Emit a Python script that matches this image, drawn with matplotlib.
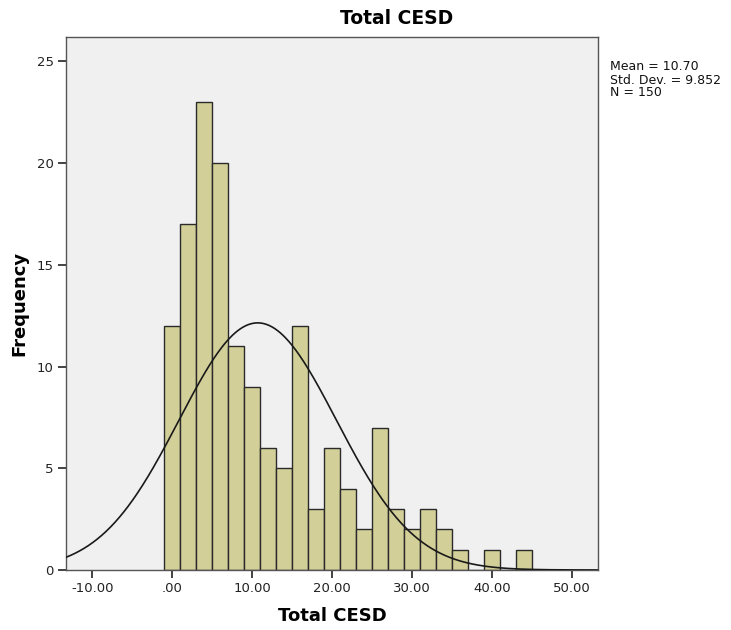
import numpy as np
import matplotlib
matplotlib.use("Agg")
import matplotlib.pyplot as plt

# Histogram data (bin centers, counts)
bin_centers = [0, 2, 4, 6, 8, 10, 12, 14, 16, 18, 20, 22, 24, 26, 28, 30, 32, 34, 36, 38, 40, 42, 44]
counts = [12, 17, 23, 20, 11, 9, 6, 5, 12, 3, 6, 4, 2, 7, 3, 2, 3, 2, 1, 0, 1, 0, 1]
bin_width = 2.0
mean = 10.70
std = 9.852
n = 150
x_ticks = [-10, 0, 10, 20, 30, 40, 50]
x_tick_labels = ["-10.00", ".00", "10.00", "20.00", "30.00", "40.00", "50.00"]
y_ticks = [0, 5, 10, 15, 20, 25]

fig = plt.figure(figsize=(7.31, 6.30), dpi=100)
fig.patch.set_facecolor("white")
ax = fig.add_axes([66/731, 60/630, (598-66)/731, (570-37)/630])
ax.set_facecolor("#f0f0f0")

ax.bar(bin_centers, counts, width=bin_width, color="#d3cf98", edgecolor="#2a2a2a", linewidth=1.0, zorder=2)

xs = np.linspace(-13.3, 53.3, 600)
pdf = n * bin_width / (std * np.sqrt(2 * np.pi)) * np.exp(-0.5 * ((xs - mean) / std) ** 2)
ax.plot(xs, pdf, color="#1a1a1a", linewidth=1.2, zorder=3)

ax.set_xlim(-13.3, 53.3)
ax.set_ylim(0, 26.2)
ax.set_xticks(x_ticks)
ax.set_xticklabels(x_tick_labels)
ax.set_yticks(y_ticks)
ax.tick_params(axis="both", direction="out", length=6, width=1.2, color="#222222",
               labelsize=9.5, labelcolor="#222222", pad=3)
for s in ax.spines.values():
    s.set_color("#555555")
    s.set_linewidth(1.0)

ax.set_xlabel("Total CESD", fontsize=13, fontweight="bold", labelpad=8)
ax.set_ylabel("Frequency", fontsize=13, fontweight="bold", labelpad=6)
fig.text(397/731, 1 - 18/630, "Total CESD", ha="center", va="center", fontsize=13.5, fontweight="bold")
fig.text(610/731, 1 - 80/630, "Mean = 10.70\nStd. Dev. = 9.852\nN = 150", ha="left", va="center",
         fontsize=9, linespacing=1.0, color="#111111")

fig.savefig("out.png", dpi=100)
